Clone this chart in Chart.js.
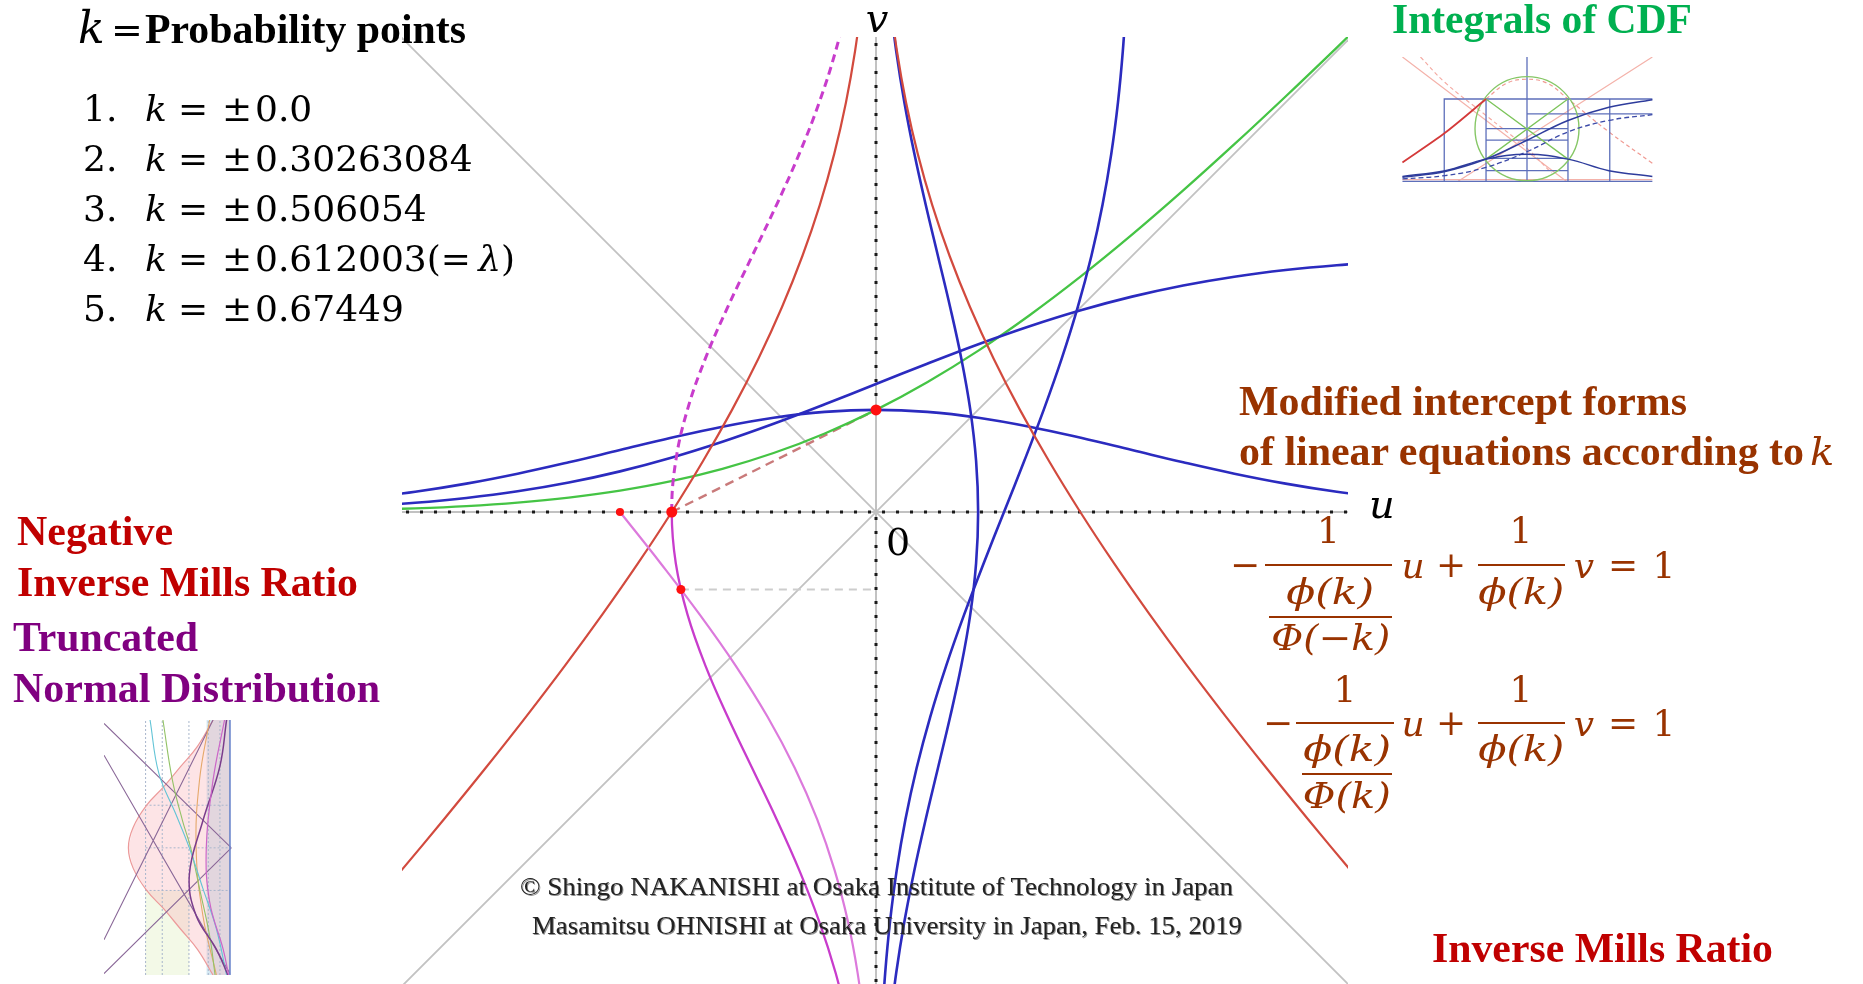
<!DOCTYPE html>
<html>
<head>
<meta charset="utf-8">
<script src="https://cdn.jsdelivr.net/npm/chart.js@4.4.1/dist/chart.umd.min.js"></script>
<style>
  html, body { margin: 0; padding: 0; background: #fff; }
  #stage { position: relative; width: 1863px; height: 984px; overflow: hidden; background: #fff; }
  #stage canvas { position: absolute; }
  .lbl { position: absolute; white-space: nowrap; }
  .bar { position: absolute; height: 2px; background: #993300; }
</style>
</head>
<body>
<div id="stage">
  <canvas id="plot" width="1863" height="984" style="left:0;top:0"></canvas>
  <canvas id="thumbCdf" width="254" height="126" style="left:1400px;top:57px"></canvas>
  <canvas id="thumbTrunc" width="128" height="255" style="left:104px;top:720px"></canvas>
</div>
<script>
// ---------- data: standard normal quantities on a 0.2 grid ----------
const grid = [-2.0, -1.8, -1.6, -1.4, -1.2, -1.0, -0.8, -0.6, -0.4, -0.2, 0, 0.2, 0.4, 0.6, 0.8, 1.0, 1.2, 1.4, 1.6, 1.8, 2.0];
// density phi
const pdf = [0.0540, 0.0790, 0.1109, 0.1497, 0.1942, 0.2420, 0.2897, 0.3332, 0.3683, 0.3910, 0.3989,
             0.3910, 0.3683, 0.3332, 0.2897, 0.2420, 0.1942, 0.1497, 0.1109, 0.0790, 0.0540];
// distribution Phi
const cdf = [0.0228, 0.0359, 0.0548, 0.0808, 0.1151, 0.1587, 0.2119, 0.2743, 0.3446, 0.4207, 0.5000,
             0.5793, 0.6554, 0.7257, 0.7881, 0.8413, 0.8849, 0.9192, 0.9452, 0.9641, 0.9772];
// integral of the CDF
const cdfIntegral = [0.0085, 0.0143, 0.0232, 0.0367, 0.0561, 0.0833, 0.1202, 0.1687, 0.2304, 0.3069, 0.3989,
                     0.5069, 0.6304, 0.7687, 0.9202, 1.0833, 1.2561, 1.4367, 1.6232, 1.8143, 2.0085];
// inverse Mills ratio phi(v)/Phi(v), against v on the grid
const invMills = [2.3732, 2.1973, 2.0241, 1.8540, 1.6876, 1.5251, 1.3674, 1.2150, 1.0688, 0.9294, 0.7979,
                  0.6751, 0.5619, 0.4591, 0.3676, 0.2876, 0.2194, 0.1629, 0.1174, 0.0819, 0.0553];
// negative inverse Mills ratio
const negInvMills = [-2.3732, -2.1973, -2.0241, -1.8540, -1.6876, -1.5251, -1.3674, -1.2150, -1.0688, -0.9294, -0.7979,
                     -0.6751, -0.5619, -0.4591, -0.3676, -0.2876, -0.2194, -0.1629, -0.1174, -0.0819, -0.0553];
// truncated normal density (mirrored), against v on the grid
const truncDensity = [-0.1080, -0.1579, -0.2218, -0.2995, -0.3884, -0.4839, -0.5794, -0.6664, -0.7365, -0.7821, -0.7979,
                      -0.7821, -0.7365, -0.6664, -0.5794, -0.4839, -0.3884, -0.2995, -0.2218, -0.1579, -0.1080];
// truncated normal CDF (mirrored), lower half
const truncGrid = [-2.0, -1.8, -1.6, -1.4, -1.2, -1.0, -0.8, -0.6, -0.4, -0.2, 0];
const truncCdf = [-0.0455, -0.0719, -0.1096, -0.1615, -0.2301, -0.3173, -0.4237, -0.5485, -0.6892, -0.8415, -1.0000];
// probability points k
const kPoints = ['0.0', '0.30263084', '0.506054', '0.612003', '0.67449'];
// marked points (u, v)
const markU = [0, -0.7979, -1.0, -0.7622];
const markV = [0.3989, 0, 0, -0.3026];
// intercept line for k = 0 and the level v = -k2
const interceptU = [-0.7979, 0];
const interceptV = [0, 0.3989];
const levelU = [-0.7622, 0];
const levelV = [-0.3026, -0.3026];
const diagU = [-2, 2];

// ---------- thumbnail data ----------
const tcX = [-1.52, -1.0, -0.5, 0, 0.5, 1.0, 1.53];
const tcCdf = [0.05, 0.12, 0.27, 0.50, 0.74, 0.90, 0.99];
const tcCdfShift = [0.03, 0.07, 0.17, 0.36, 0.60, 0.74, 0.81];
const tcPdf = [0.06, 0.13, 0.27, 0.33, 0.27, 0.13, 0.06];
const tcRedX = [-1.52, -1.0, -0.5];
const tcRedY = [0.23, 0.59, 1.0];
const tcFrame = [[-1.52,0],[1.53,0],null,[0,0],[0,1.51],null,[-1.01,0],[-1.01,1.0],[1.53,1.0],null,[1.01,0],[1.01,1.0],null,
                 [-0.5,0],[-0.5,1.0],null,[0.5,0],[0.5,1.0],null,[-0.5,0.64],[0.5,0.64],null,[-0.5,0.5],[0.5,0.5],null,
                 [-0.5,0.28],[0.5,0.28],null,[-0.5,0.13],[0.5,0.13],null,[0,0.82],[1.53,0.82]];
const tcGreenX = [[-0.5,1.0],[0.5,0.27],null,[0.5,1.0],[-0.5,0.27]];
const tcPinkLines = [[-1.52,1.51],[0.48,0],null,[1.53,1.51],[-0.84,0],null,[-1.52,0.02],[1.53,0.02]];
const tcPinkDash = [[-0.5,1.0],[-0.25,1.19],[0,1.24],[0.25,1.19],[0.5,1.0],[1.0,0.6],[1.53,0.22]];
const tcPinkDash2 = [[-1.3,1.51],[-1.0,1.2],[-0.5,0.8],[0,0.4],[0.3,0.1]];

const ttBellT = [1.89, 1.5, 1.2, 0.9, 0.63, 0.3, 0, -0.3, -0.63, -0.9, -1.2, -1.5, -1.88];
const ttBellS = [-0.25, -0.48, -0.73, -0.98, -1.23, -1.43, -1.50, -1.43, -1.23, -0.98, -0.73, -0.48, -0.25];
const ttCyan = [[-1.18,1.89],[-1.05,1.1],[-0.8,0.5],[-0.6,0],[-0.4,-0.6],[-0.2,-1.2],[-0.05,-1.88]];
const ttGreen = [[-0.99,1.89],[-0.85,1.0],[-0.7,0.4],[-0.58,0],[-0.45,-0.6],[-0.3,-1.3],[-0.22,-1.88]];
const ttPurple = [[-0.05,1.89],[-0.15,1.2],[-0.4,0.4],[-0.6,-0.4],[-0.5,-1.0],[-0.2,-1.5],[-0.03,-1.88]];
const ttMagenta = [[-0.08,1.89],[-0.25,1.0],[-0.35,0],[-0.3,-0.8],[-0.1,-1.5],[-0.02,-1.88]];
const ttOrange = [[-0.3,1.89],[-0.45,1.0],[-0.5,0],[-0.4,-1.0],[-0.2,-1.88]];
const ttDiag = [[-1.86,1.84],[0.02,0],null,[-1.86,-1.86],[0.02,0],null,[-1.86,1.37],[0,-1.86],null,[-1.86,-1.36],[-0.25,1.89]];
const ttGridV = [-1.246, -1.0, -0.606, -0.32, -0.148];
const ttGridH = [0.63, 0, -0.63];

// ---------- helpers ----------
const pts = (xs, ys) => xs.map((x, i) => ({ x, y: ys[i] }));
const pairs = list => list.map(p => p ? { x: p[0], y: p[1] } : { x: 0, y: null });
function curve(data, color, width, order, extra) {
  return Object.assign({ data, showLine: true, borderColor: color, backgroundColor: color,
    borderWidth: width, pointRadius: 0, tension: 0, fill: false, order, spanGaps: false }, extra || {});
}
const smooth = { tension: 0.4, cubicInterpolationMode: 'default' };

const BLUE = '#2b2bbf', RED = '#d24a3e', GREEN = '#45c445', MAG = '#c83ccc', MAG_LIGHT = '#dc7adc', GRAY = '#c2c2c2';

// ---------- main plot ----------
const mainSets = [
  curve(pts(diagU, diagU), GRAY, 1.8, 20),
  curve(pts(diagU, [2, -2]), GRAY, 1.8, 20),
  curve(pts([-2, 2], [0, 0]), GRAY, 2, 19),
  curve(pts([0, 0], [-2, 2]), GRAY, 2, 19),
  curve(pts([-2, 2], [0, 0]), '#1a1a1a', 3, 18, { borderDash: [3, 11] }),
  curve(pts([0, 0], [-2, 0]), '#1a1a1a', 3, 18, { borderDash: [3, 11] }),
  curve(pts([0, 0], [markV[0], 2]), '#1a1a1a', 3, 18, { borderDash: [3, 11] }),
  curve(pts(levelU, levelV), '#cdcdcd', 2, 17, { borderDash: [8, 6] }),
  curve(pts(interceptU, interceptV), '#c97a7a', 2.4, 16, { borderDash: [9, 6] }),
  curve(pts(grid, cdfIntegral), GREEN, 2.3, 6, smooth),
  curve(pts(grid, pdf), BLUE, 2.6, 5, smooth),
  curve(pts(grid, cdf), BLUE, 2.6, 5, smooth),
  curve(pts(pdf, grid), BLUE, 2.6, 5, smooth),
  curve(pts(cdf, grid), BLUE, 2.6, 5, smooth),
  curve(pts(negInvMills, grid), RED, 2.2, 4, smooth),
  curve(pts(invMills, grid), RED, 2.2, 4, smooth),
  curve(pts(truncCdf, truncGrid), MAG_LIGHT, 2.2, 3, smooth),
  curve(pts(truncDensity, grid), MAG, 2.3, 3, Object.assign({
    segment: { borderDash: c => (c.p1.parsed.y > 0.0001 ? [8, 5] : undefined),
               borderWidth: c => (c.p1.parsed.y > 0.0001 ? 3 : 2.3) }
  }, smooth)),
  { data: pts(markU, markV), showLine: false, pointRadius: [5.5, 5.5, 4, 4.5], pointBackgroundColor: '#ff1010',
    pointBorderWidth: 0, order: 0 }
];

const baseOpts = (xmin, xmax, ymin, ymax, pad) => ({
  responsive: false, animation: false, devicePixelRatio: 1, events: [],
  layout: { padding: pad, autoPadding: false },
  scales: {
    x: { type: 'linear', min: xmin, max: xmax, display: false },
    y: { type: 'linear', min: ymin, max: ymax, display: false }
  },
  plugins: { legend: { display: false }, tooltip: { enabled: false } },
  elements: { point: { radius: 0 }, line: { capBezierPoints: false } }
});

new Chart(document.getElementById('plot'), {
  type: 'scatter',
  data: { datasets: mainSets },
  options: baseOpts(-1.8516, 1.84375, -1.84375, 1.8555, { left: 402, right: 515, top: 37, bottom: 0 })
});

// ---------- thumbnail: integrals of the CDF ----------
new Chart(document.getElementById('thumbCdf'), {
  type: 'scatter',
  data: { datasets: [
    curve(pairs(tcPinkLines), '#f4b2aa', 1.2, 9),
    curve(pairs(tcPinkDash), '#f09a92', 1.2, 8, { borderDash: [4, 3], tension: 0.4 }),
    curve(pairs(tcPinkDash2), '#f4a8a0', 1.1, 8, { borderDash: [4, 3], tension: 0.4 }),
    curve(pairs(tcFrame), '#5d6fba', 1.3, 7),
    curve(pairs(tcGreenX), '#7cc45a', 1.3, 6),
    { data: [{ x: 0, y: 0.64 }], showLine: false, pointRadius: 52, pointBackgroundColor: 'rgba(0,0,0,0)',
      pointBorderColor: '#86c766', pointBorderWidth: 1.4, order: 6 },
    curve(pts(tcX, tcCdfShift), '#3c4aa8', 1.3, 5, { borderDash: [5, 3], tension: 0.4 }),
    curve(pts(tcX, tcCdf), '#2e3c9c', 1.6, 4, { tension: 0.4 }),
    curve(pts(tcX, tcPdf), '#2e3c9c', 1.5, 4, { tension: 0.4 }),
    curve(pts(tcRedX, tcRedY), '#d43a3a', 1.8, 3, { tension: 0.3 })
  ] },
  options: baseOpts(-1.55, 1.55, -0.02, 1.51, 0)
});

// ---------- thumbnail: truncated normal distribution ----------
const ttGridSegs = [];
ttGridV.forEach(s => ttGridSegs.push([s, -1.88], [s, 1.89], null));
ttGridH.forEach(t => ttGridSegs.push([-1.246, t], [0, t], null));
const bellShape = pts(ttBellS, ttBellT).concat([{ x: 0, y: -1.88 }, { x: 0, y: 1.89 }, { x: ttBellS[0], y: ttBellT[0] }]);
new Chart(document.getElementById('thumbTrunc'), {
  type: 'scatter',
  data: { datasets: [
    curve(pairs([[-0.345,-1.88],[0,-1.88],[0,1.89],[-0.345,1.89],[-0.345,-1.88]]), 'rgba(0,0,0,0)', 0, 12,
          { fill: 'shape', backgroundColor: 'rgba(160,205,228,0.45)' }),
    curve(bellShape, 'rgba(0,0,0,0)', 0, 11, { fill: 'shape', backgroundColor: 'rgba(250,185,190,0.38)' }),
    curve(pairs([[-1.25,-1.88],[-0.6,-1.88],[-0.6,-0.63],[-1.25,-0.63],[-1.25,-1.88]]), 'rgba(0,0,0,0)', 0, 11,
          { fill: 'shape', backgroundColor: 'rgba(225,240,195,0.4)' }),
    curve(pairs(ttGridSegs), '#a9b6cc', 1, 10, { borderDash: [2, 2] }),
    curve(pts(ttBellS, ttBellT), '#ec9a9a', 1.2, 8, { tension: 0.4 }),
    curve(pairs(ttDiag), '#8a6898', 1.1, 7),
    curve(pairs(ttCyan), '#62c4d6', 1.1, 6, { tension: 0.4 }),
    curve(pairs(ttGreen), '#92c266', 1.1, 6, { tension: 0.4 }),
    curve(pairs(ttOrange), '#e5a86a', 1.1, 6, { tension: 0.4 }),
    curve(pairs(ttMagenta), '#cc66c8', 1.2, 5, { tension: 0.4 }),
    curve(pairs(ttPurple), '#7a3c8c', 1.5, 5, { tension: 0.4 }),
    curve(pairs([[0,-1.88],[0,1.89]]), '#6a86cc', 1.6, 4)
  ] },
  options: baseOpts(-1.86, 0.03, -1.88, 1.89, 0)
});

// ---------- text ----------
const stage = document.getElementById('stage');
const SERIF = '"Liberation Serif", "Times New Roman", serif';
const MATH = '"DejaVu Serif", serif';

function put(html, x, base, font, color, opt) {
  opt = opt || {};
  const el = document.createElement('div');
  el.className = 'lbl';
  el.innerHTML = html;
  el.style.font = font;
  el.style.lineHeight = '1.2';
  el.style.color = color;
  if (opt.css) el.style.cssText += opt.css;
  const probe = document.createElement('span');
  probe.style.cssText = 'display:inline-block;width:0;height:0;';
  el.appendChild(probe);
  stage.appendChild(el);
  const w = el.getBoundingClientRect().width;
  const b = probe.offsetTop;
  const left = opt.align === 'center' ? x - w / 2 : x;
  el.style.left = left + 'px';
  el.style.top = (base - b) + 'px';
  if (opt.width) {
    el.style.transformOrigin = opt.align === 'center' ? '50% 50%' : '0 50%';
    el.style.transform = 'scaleX(' + (opt.width / w) + ')';
  }
  return el;
}
function bar(x1, x2, y) {
  const d = document.createElement('div');
  d.className = 'bar';
  d.style.left = x1 + 'px';
  d.style.width = (x2 - x1) + 'px';
  d.style.top = (y - 1) + 'px';
  stage.appendChild(d);
}

// heading and list of probability points
put('<i>k</i>', 78, 43, 'italic 44px ' + MATH, '#000');
put('=', 127, 43, '38px ' + MATH, '#000', { align: 'center' });
put('Probability points', 145, 43, 'bold 42px ' + SERIF, '#000', { width: 321 });
kPoints.forEach((k, i) => {
  const base = 121 + 50 * i;
  put((i + 1) + '.', 83, base, '36px ' + MATH, '#000');
  put('<i>k</i>', 145, base, 'italic 36px ' + MATH, '#000');
  put('=', 193, base, '36px ' + MATH, '#000', { align: 'center' });
  put('±', 237, base, '36px ' + MATH, '#000', { align: 'center' });
  put(k + (i === 3 ? '(=\u2009<i>λ</i>)' : ''), 255, base, '36px ' + MATH, '#000');
});

// axis names
put('<i>v</i>', 877, 32, 'italic 40px ' + MATH, '#000', { align: 'center' });
put('<i>u</i>', 1382, 518, 'italic 40px ' + MATH, '#000', { align: 'center' });
put('0', 898, 555, '38px ' + MATH, '#000', { align: 'center' });

// captions
const BROWN = '#993300';
put('Integrals of CDF', 1392, 33, 'bold 42px ' + SERIF, '#00b050', { width: 300 });
put('Modified intercept forms', 1239, 415, 'bold 42px ' + SERIF, BROWN, { width: 448 });
put('of linear equations according to', 1239, 465, 'bold 42px ' + SERIF, BROWN, { width: 565 });
put('<i>k</i>', 1810, 465, 'italic 40px ' + MATH, BROWN);
put('Negative', 17, 545, 'bold 42px ' + SERIF, '#c00000', { width: 156 });
put('Inverse Mills Ratio', 17, 596, 'bold 42px ' + SERIF, '#c00000', { width: 341 });
put('Truncated', 13, 651, 'bold 42px ' + SERIF, '#800080', { width: 185 });
put('Normal Distribution', 13, 702, 'bold 42px ' + SERIF, '#800080', { width: 367 });
put('Inverse Mills Ratio', 1432, 962, 'bold 42px ' + SERIF, '#c00000', { width: 341 });

// copyright
const soft = 'filter:blur(0.45px);text-shadow:0.9px 0.9px 0 rgba(70,70,70,0.6);';
put('© Shingo NAKANISHI at Osaka Institute of Technology in Japan', 520, 895, '25px ' + SERIF, '#222',
    { width: 713, css: soft });
put('Masamitsu OHNISHI at Osaka University in Japan, Feb. 15, 2019', 532, 934, '25px ' + SERIF, '#222',
    { width: 710, css: soft });

// intercept-form equations
const EQ = '36px ' + MATH, EQI = 'italic 36px ' + MATH;
function equation(axisY, minusX, bigBar, innerBar, topBase, midBase, lowBase, innerTop, innerLow) {
  const opBase = axisY + 12;
  put('−', minusX, opBase, EQ, BROWN, { align: 'center' });
  bar(bigBar[0], bigBar[1], axisY);
  const cx = (innerBar[0] + innerBar[1]) / 2;
  put('1', (bigBar[0] + bigBar[1]) / 2, topBase, EQ, BROWN, { align: 'center' });
  put(innerTop[0], cx, midBase, EQI, BROWN, { align: 'center', width: innerTop[1] });
  bar(innerBar[0], innerBar[1], innerBar[2]);
  put(innerLow[0], cx, lowBase, EQI, BROWN, { align: 'center', width: innerLow[1] });
  put('<i>u</i>', 1413, opBase + 1, EQ, BROWN, { align: 'center' });
  put('+', 1451, opBase, EQ, BROWN, { align: 'center' });
  put('1', 1521, topBase, EQ, BROWN, { align: 'center' });
  bar(1478, 1565, axisY);
  put('ϕ(<span style="font-style:italic">k</span>)', 1521, midBase, EQI, BROWN, { align: 'center', width: 86 });
  put('<i>v</i>', 1584, opBase + 1, EQ, BROWN, { align: 'center' });
  put('=', 1623, opBase, EQ, BROWN, { align: 'center' });
  put('1', 1664, opBase + 1, EQ, BROWN, { align: 'center' });
}
equation(565, 1245, [1265, 1392], [1269, 1392, 617], 543, 604, 650,
         ['ϕ(k)', 88], ['Φ(−k)', 119]);
equation(723, 1278, [1296, 1394], [1302, 1392, 774], 702, 761, 808,
         ['ϕ(k)', 88], ['Φ(k)', 88]);
</script>
</body>
</html>
